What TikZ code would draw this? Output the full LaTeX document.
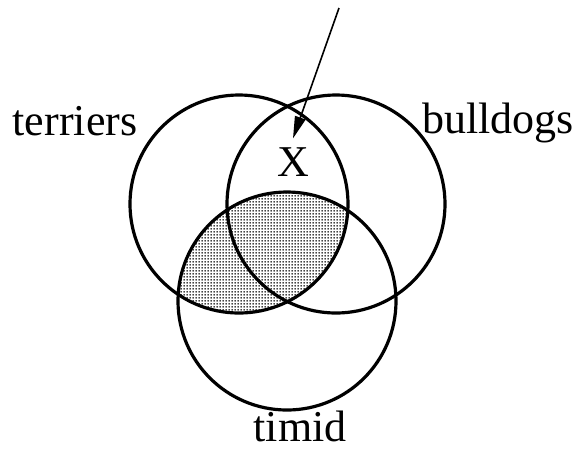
\documentclass[tikz,border=0pt]{standalone}
\usepackage{fontspec}
\setmainfont{Liberation Serif}
\usetikzlibrary{arrows.meta, patterns.meta}

\tikzdeclarepattern{
    name=venndots,
    type=uncolored,
    bounding box={(0pt,0pt) and (3pt,3pt)},
    tile size={(3pt,3pt)},
    code={\pgfpathcircle{\pgfpoint{1.5pt}{1.5pt}}{1.1pt}\pgfusepath{fill}}
}

\begin{document}
\begin{tikzpicture}[
        x=1pt, y=-1pt,
        venn/.style={circle, draw, line width=3.2pt, minimum size=218pt, inner sep=0pt},
        setlabel/.style={font=\fontsize{44}{50}\selectfont, anchor=base, inner sep=0pt},
        arrow/.style={-{Triangle[length=22pt, width=11pt]}, line width=1.6pt},
    ]
    \useasboundingbox (0,0) rectangle (584,451);

    % ===== Shaded part: terriers and timid =====
    \begin{scope}
        \clip (239,204) circle [radius=109pt];
        \fill[pattern=venndots] (287,301) circle [radius=109pt];
    \end{scope}

    % ===== Circles =====
    \node[venn] (TERR) at (239,204) {};
    \node[venn] (BULL) at (336,204) {};
    \node[venn] (TIMID) at (287,301) {};

    % ===== Labels =====
    \node[setlabel] (TERR_LABEL) at (75,135) {terriers};
    \node[setlabel] (BULL_LABEL) at (498,133) {bulldogs};
    \node[setlabel] (TIMID_LABEL) at (300,441) {timid};

    % ===== Pointer to X =====
    \node[font=\fontsize{44}{50}\selectfont, inner sep=9pt] (X) at (293,162) {X};
    \coordinate (SRC) at (339,8);
    \draw[arrow] (SRC) -- (X.north);

\end{tikzpicture}
\end{document}
